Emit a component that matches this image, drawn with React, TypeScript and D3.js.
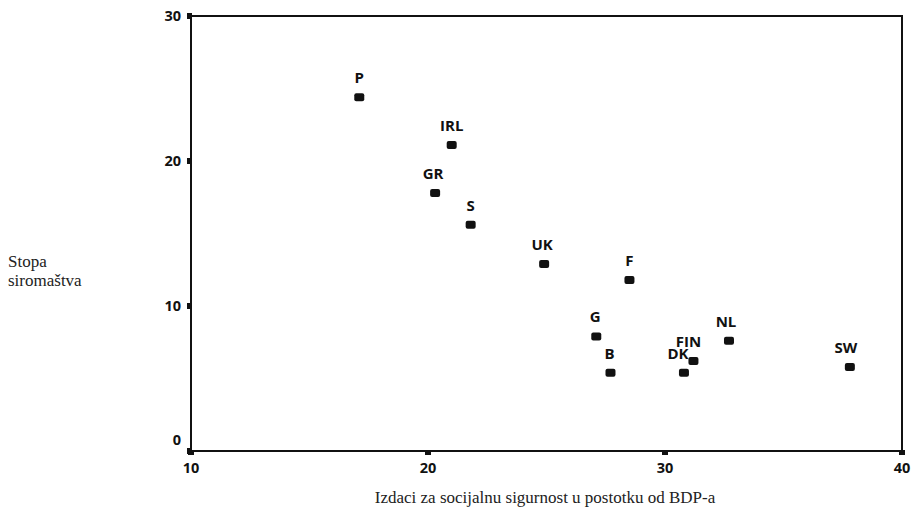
import React, { useRef, useEffect } from "react";
import * as d3 from "d3";

// countries and their values
const countries = ["P", "IRL", "GR", "S", "UK", "F", "G", "B", "DK", "FIN", "NL", "SW"];
const spending = [17.1, 21.0, 20.3, 21.8, 24.9, 28.5, 27.1, 27.7, 30.8, 31.2, 32.7, 37.8];
const poverty = [24.4, 21.1, 17.8, 15.6, 12.9, 11.8, 7.9, 5.4, 5.4, 6.2, 7.6, 5.8];
const labelShift = [0, 0, -2, 0, -2, 0, -1, -1, -6, -5, -3, -4];
const xTicks = [10, 20, 30, 40];
const yTicks = [0, 10, 20, 30];

export default function App() {
  const ref = useRef<SVGSVGElement>(null);

  useEffect(() => {
    const width = 913;
    const height = 514;
    const svg = d3.select(ref.current);
    svg.selectAll("*").remove();
    svg.attr("width", width).attr("height", height);

    const x = d3.scaleLinear().domain([10, 40]).range([191, 902]);
    const y = d3.scaleLinear().domain([0, 30]).range([451, 16]);

    const sans = "'Open Sans', 'DejaVu Sans', sans-serif";
    const serif = "'Liberation Serif', 'DejaVu Serif', serif";

    // frame
    svg.append("rect")
      .attr("x", x(10))
      .attr("y", y(30))
      .attr("width", x(40) - x(10))
      .attr("height", y(0) - y(30))
      .attr("fill", "none")
      .attr("stroke", "#111")
      .attr("stroke-width", 2);

    // tick marks
    svg.selectAll(".xt")
      .data(xTicks)
      .enter()
      .append("rect")
      .attr("x", d => x(d) - 3)
      .attr("y", y(0) - 1)
      .attr("width", 6)
      .attr("height", 5)
      .attr("fill", "#111");

    svg.selectAll(".yt")
      .data(yTicks)
      .enter()
      .append("rect")
      .attr("x", x(10) - 4)
      .attr("y", d => y(d) - 3)
      .attr("width", 5)
      .attr("height", 6)
      .attr("fill", "#111");

    svg.selectAll(".xl")
      .data(xTicks)
      .enter()
      .append("text")
      .attr("x", d => x(d))
      .attr("y", y(0) + 22)
      .attr("text-anchor", "middle")
      .attr("font-family", sans)
      .attr("font-weight", "bold")
      .attr("font-size", 14.5)
      .attr("fill", "#111")
      .text(d => d);

    svg.selectAll(".yl")
      .data(yTicks)
      .enter()
      .append("text")
      .attr("x", x(10) - 10)
      .attr("y", d => y(d) + (d === 0 ? -6 : 5))
      .attr("text-anchor", "end")
      .attr("font-family", sans)
      .attr("font-weight", "bold")
      .attr("font-size", 14.5)
      .attr("fill", "#111")
      .text(d => d);

    // points
    const pts = svg.selectAll(".pt")
      .data(countries.map((c, i) => ({ c, xv: spending[i], yv: poverty[i], dx: labelShift[i] })))
      .enter()
      .append("g");

    pts.append("rect")
      .attr("x", d => x(d.xv) - 5)
      .attr("y", d => y(d.yv) - 4)
      .attr("width", 10)
      .attr("height", 8)
      .attr("rx", 2)
      .attr("fill", "#111");

    pts.append("text")
      .attr("x", d => x(d.xv) + d.dx)
      .attr("y", d => y(d.yv) - 14)
      .attr("text-anchor", "middle")
      .attr("font-family", sans)
      .attr("font-weight", "bold")
      .attr("font-size", 15)
      .attr("fill", "#111")
      .text(d => d.c);

    // axis titles
    svg.append("text")
      .attr("x", 8)
      .attr("y", 267)
      .attr("font-family", serif)
      .attr("font-size", 17)
      .attr("fill", "#222")
      .text("Stopa");
    svg.append("text")
      .attr("x", 8)
      .attr("y", 286)
      .attr("font-family", serif)
      .attr("font-size", 17)
      .attr("fill", "#222")
      .text("siromaštva");

    svg.append("text")
      .attr("x", 545)
      .attr("y", 503)
      .attr("text-anchor", "middle")
      .attr("font-family", serif)
      .attr("font-size", 17)
      .attr("fill", "#222")
      .text("Izdaci za socijalnu sigurnost u postotku od BDP-a");
  }, []);

  return (
    <svg ref={ref} style={{ position: "absolute", left: 0, top: 0, background: "#fff" }}></svg>
  );
}
